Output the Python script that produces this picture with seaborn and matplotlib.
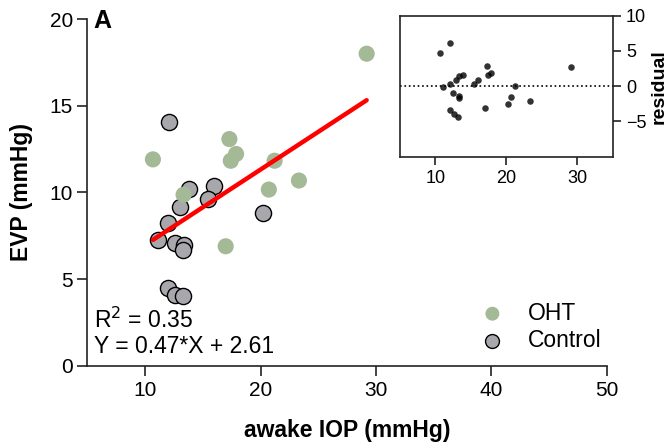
import numpy as np
import pandas as pd
import seaborn as sns
import matplotlib
matplotlib.use("Agg")
import matplotlib.pyplot as plt

# valores
oht_iop = [10.67, 17.30, 17.88, 17.42, 21.22, 23.33, 20.72, 13.33, 16.98, 29.20]
oht_evp = [11.91, 13.08, 12.22, 11.83, 11.83, 10.69, 10.17, 9.87, 6.90, 18.00]
ctrl_iop = [12.09, 13.83, 16.00, 15.42, 12.98, 12.00, 11.07, 12.55, 13.33, 13.28,
            20.20, 12.00, 12.60, 13.25]
ctrl_evp = [14.06, 10.21, 10.40, 9.60, 9.15, 8.23, 7.28, 7.07, 6.99, 6.69,
            8.84, 4.51, 4.10, 4.06]
groups = ["OHT", "Control"]

oht = pd.DataFrame({"iop": oht_iop, "evp": oht_evp, "group": groups[0]})
ctrl = pd.DataFrame({"iop": ctrl_iop, "evp": ctrl_evp, "group": groups[1]})
df = pd.concat([oht, ctrl], ignore_index=True)

sns.set_style("ticks")
plt.rcParams["font.family"] = ["Liberation Sans", "DejaVu Sans"]
plt.rcParams["text.color"] = "black"
plt.rcParams["axes.labelcolor"] = "black"
plt.rcParams["xtick.color"] = "black"
plt.rcParams["ytick.color"] = "black"

fig = plt.figure(figsize=(6.71, 4.44), dpi=100)
ax = fig.add_axes([0.1304, 0.1757, 0.7736, 0.7815])

# Control primero, OHT encima
sns.scatterplot(data=ctrl, x="iop", y="evp", color="#a8a8ac", s=135,
                edgecolor="black", linewidth=1.0, label="Control", ax=ax, zorder=3)
sns.scatterplot(data=oht, x="iop", y="evp", color="#a4b995", s=135,
                edgecolor="none", label="OHT", ax=ax, zorder=4)

sns.regplot(data=df, x="iop", y="evp", scatter=False, ci=None, ax=ax,
            line_kws={"color": "#ff0000", "lw": 3.2, "zorder": 5})

ax.set_xlim(5, 50)
ax.set_ylim(0, 20)
ax.set_xticks([10, 20, 30, 40, 50])
ax.set_yticks([0, 5, 10, 15, 20])
ax.tick_params(labelsize=15, length=7, width=1.2, color="#222222")
for s in ["left", "bottom"]:
    ax.spines[s].set_linewidth(1.2)
    ax.spines[s].set_color("#222222")
sns.despine(ax=ax)
ax.set_xlabel("awake IOP (mmHg)", fontsize=16.5, fontweight="bold", labelpad=14)
ax.set_ylabel("EVP (mmHg)", fontsize=16.5, fontweight="bold", labelpad=12)

ax.text(0.012, 1.03, "A", transform=ax.transAxes, fontsize=18, fontweight="bold",
        va="top", ha="left")
ax.text(0.013, 0.11, "R$^2$ = 0.35", transform=ax.transAxes, fontsize=16.5,
        va="baseline", ha="left")
ax.text(0.013, 0.037, "Y = 0.47*X + 2.61", transform=ax.transAxes, fontsize=16.5,
        va="baseline", ha="left")

handles, labels = ax.get_legend_handles_labels()
leg = ax.legend(handles[::-1], labels[::-1], loc="lower right",
                bbox_to_anchor=(1.03, -0.02), frameon=False,
                fontsize=16.5, handletextpad=0.55, labelspacing=0.2)
for h in leg.legend_handles:
    h.set_sizes([100])

# panel de residuos
ins = fig.add_axes([0.596, 0.647, 0.317, 0.3176])
sns.residplot(data=df, x="iop", y="evp", ax=ins,
              scatter_kws={"s": 22, "color": "black", "linewidths": 0})
for ln in ins.lines:
    ln.set_linestyle(":")
    ln.set_color("black")
    ln.set_linewidth(1.2)
ins.set_xlim(5, 35)
ins.set_ylim(-10, 10)
ins.set_xticks([10, 20, 30])
ins.set_yticks([-5, 0, 5, 10])
ins.yaxis.tick_right()
ins.yaxis.set_label_position("right")
ins.tick_params(labelsize=13, length=6, width=1.2, color="#222222")
for s in ins.spines.values():
    s.set_linewidth(1.2)
    s.set_color("#222222")
ins.set_xlabel("")
ins.set_ylabel("residual", fontsize=14, fontweight="bold", labelpad=3)

fig.savefig("out.png", dpi=100)
